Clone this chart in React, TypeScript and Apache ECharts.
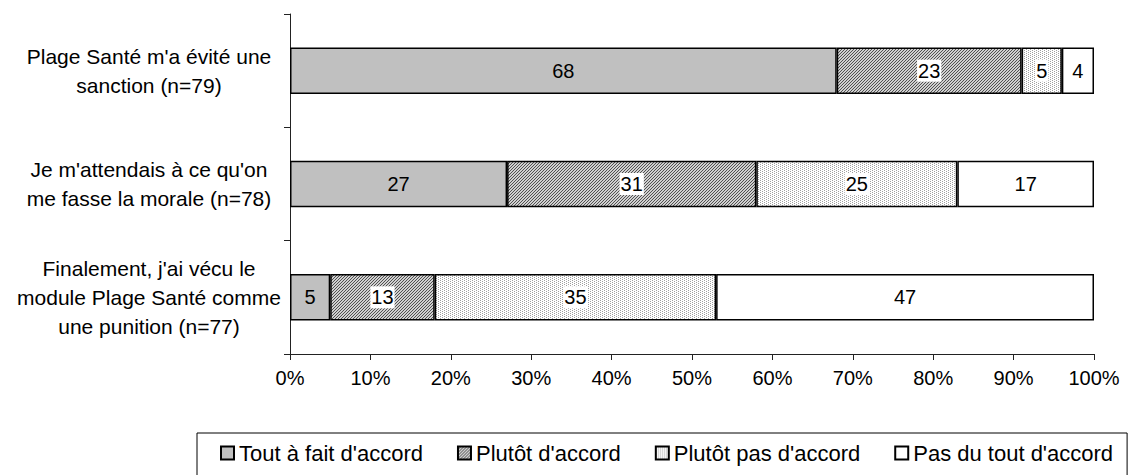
import React, { useEffect, useRef } from "react";
import * as echarts from "echarts";

const categories = [
  "Plage Santé m'a évité une\nsanction (n=79)",
  "Je m'attendais à ce qu'on\nme fasse la morale (n=78)",
  "Finalement, j'ai vécu le\nmodule Plage Santé comme\nune punition (n=77)",
];
const seriesNames = [
  "Tout à fait d'accord",
  "Plutôt d'accord",
  "Plutôt pas d'accord",
  "Pas du tout d'accord",
];
const toutAFait = [68, 27, 5];
const plutot = [23, 31, 13];
const plutotPas = [5, 25, 35];
const pasDuTout = [4, 17, 47];
const xTicks = [0, 10, 20, 30, 40, 50, 60, 70, 80, 90, 100];

function makePattern(size: number, bg: string, fg: string, pts: [number, number][]): string {
  const c = document.createElement("canvas");
  c.width = size;
  c.height = size;
  const ctx = c.getContext("2d")!;
  ctx.fillStyle = bg;
  ctx.fillRect(0, 0, size, size);
  ctx.fillStyle = fg;
  pts.forEach(([x, y]) => ctx.fillRect(x, y, 1, 1));
  return c.toDataURL();
}

export default function App() {
  const ref = useRef<HTMLDivElement>(null);
  useEffect(() => {
    document.body.style.margin = "0";
    const chart = echarts.init(ref.current!, null, { renderer: "svg" });
    const hatch = makePattern(3, "#d0d0d0", "#505050", [
      [0, 2], [1, 1], [2, 0],
    ]);
    const dots = makePattern(4, "#ffffff", "#a0a0a0", [
      [0, 0], [0, 2], [2, 1], [2, 3],
    ]);
    const font = "'Liberation Sans', Arial, sans-serif";
    const fills: any[] = [
      "#c0c0c0",
      { image: hatch, repeat: "repeat" },
      { image: dots, repeat: "repeat" },
      "#ffffff",
    ];
    const datas = [toutAFait, plutot, plutotPas, pasDuTout];
    chart.setOption({
      animation: false,
      textStyle: { fontFamily: font },
      grid: { left: 290, right: 45, top: 14, bottom: 121 },
      legend: {
        left: 197,
        right: 0,
        top: 433,
        orient: "horizontal",
        borderColor: "#000",
        borderWidth: 1,
        padding: [9, 14, 24, 23],
        itemWidth: 13,
        itemHeight: 13,
        itemGap: 34,
        icon: "rect",
        textStyle: { fontSize: 22, color: "#000", fontFamily: font },
        data: seriesNames,
      },
      xAxis: {
        type: "value",
        min: 0,
        max: 100,
        interval: 10,
        axisLine: { show: true, lineStyle: { color: "#222", width: 1 } },
        axisTick: { show: true, length: 6, lineStyle: { color: "#222" } },
        splitLine: { show: false },
        axisLabel: {
          fontSize: 20,
          color: "#000",
          margin: 14,
          formatter: (v: number) => (xTicks.includes(v) ? v + "%" : ""),
        },
      },
      yAxis: {
        type: "category",
        inverse: true,
        data: categories,
        axisLine: { show: true, lineStyle: { color: "#222", width: 1 } },
        axisTick: { show: true, length: 6, lineStyle: { color: "#222" } },
        axisLabel: {
          fontSize: 21,
          color: "#000",
          align: "center",
          margin: 141,
          lineHeight: 29,
        },
      },
      series: datas.map((d, i) => ({
        name: seriesNames[i],
        type: "bar",
        stack: "total",
        barWidth: "41%",
        data: d,
        itemStyle: { color: fills[i], borderColor: "#000", borderWidth: 1.5 },
        label: {
          show: true,
          position: "inside",
          color: "#000",
          fontSize: 20,
          fontFamily: font,
          backgroundColor: i === 1 || i === 2 ? "#fff" : "transparent",
          padding: i === 1 || i === 2 ? [2, 1, 0, 1] : 0,
        },
      })),
    });
    return () => chart.dispose();
  }, []);
  return (
    <div
      ref={ref}
      style={{ position: "absolute", left: 0, top: 0, width: 1139, height: 475 }}
    />
  );
}
